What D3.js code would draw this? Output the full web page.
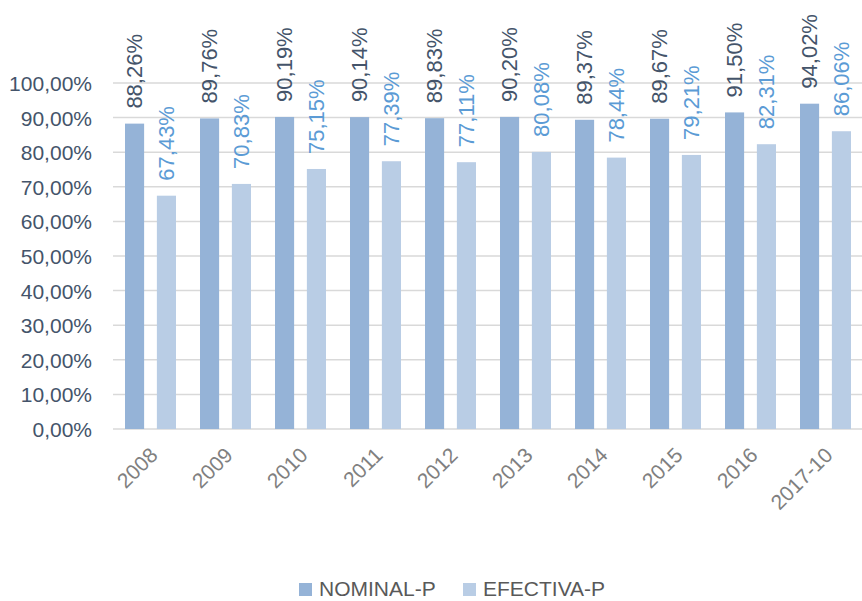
<!DOCTYPE html>
<html>
<head>
<meta charset="utf-8">
<script src="https://cdn.jsdelivr.net/npm/d3@7"></script>
<style>
  body { margin: 0; background: #fff; }
  text { font-family: "Liberation Sans", Arial, sans-serif; }
</style>
</head>
<body>
<script>
var years = ["2008","2009","2010","2011","2012","2013","2014","2015","2016","2017-10"]
var nominal = [88.26, 89.76, 90.19, 90.14, 89.83, 90.20, 89.37, 89.67, 91.50, 94.02]
var efectiva = [67.43, 70.83, 75.15, 77.39, 77.11, 80.08, 78.44, 79.21, 82.31, 86.06]
var seriesNames = ["NOMINAL-P", "EFECTIVA-P"]
var yTicks = [0,10,20,30,40,50,60,70,80,90,100]

var width = 862
var height = 601
var colors = ["#95b3d7", "#b9cde5"]
var labelColors = ["#44546a", "#5b9bd5"]

var fmt = function(v){ return v.toFixed(2).replace(".", ",") + "%" }

var svg = d3.select("body")
            .append("svg")
            .attr("width", width)
            .attr("height", height)

var xScale = d3.scaleBand()
               .domain(years)
               .range([113, 863])

var xInner = d3.scaleBand()
               .domain([0,1])
               .range([12, 63])
               .paddingInner(0.4)

var yScale = d3.scaleLinear()
               .domain([0,100])
               .range([429, 83])

// gridlines
svg.append("g")
   .selectAll("line")
   .data(yTicks)
   .enter()
   .append("line")
   .attr("x1", 113)
   .attr("x2", 862)
   .attr("y1", function(d){ return yScale(d) })
   .attr("y2", function(d){ return yScale(d) })
   .attr("stroke", "#d9d9d9")
   .attr("stroke-width", 1.5)

// y axis labels
var yAxis = d3.axisLeft(yScale)
              .tickValues(yTicks)
              .tickSize(0)
              .tickPadding(0)
              .tickFormat(function(d){ return d.toFixed(2).replace(".", ",") + "%" })

svg.append("g")
   .attr("transform", "translate(92,0)")
   .call(yAxis)
   .call(function(g){ g.select(".domain").remove() })
   .selectAll("text")
   .attr("font-size", 21)
   .attr("fill", "#44546a")
   .attr("dy", "0.36em")

var series = [nominal, efectiva]

series.forEach(function(vals, s){
  svg.append("g")
     .selectAll("rect")
     .data(vals)
     .enter()
     .append("rect")
     .attr("x", function(d,i){ return xScale(years[i]) + xInner(s) })
     .attr("width", xInner.bandwidth())
     .attr("y", function(d){ return yScale(d) })
     .attr("height", function(d){ return yScale(0) - yScale(d) })
     .attr("fill", colors[s])

  svg.append("g")
     .selectAll("text")
     .data(vals)
     .enter()
     .append("text")
     .attr("transform", function(d,i){
       var cx = xScale(years[i]) + xInner(s) + xInner.bandwidth()/2
       return "translate(" + cx + "," + (yScale(d) - 15) + ") rotate(-90)"
     })
     .attr("dy", "0.36em")
     .attr("font-size", 22)
     .attr("fill", labelColors[s])
     .text(function(d){ return fmt(d) })
})

// x axis labels
var xAxis = d3.axisBottom(xScale).tickSize(0).tickPadding(0)

svg.append("g")
   .attr("transform", "translate(0,446)")
   .call(xAxis)
   .call(function(g){ g.select(".domain").remove() })
   .selectAll("text")
   .attr("font-size", 21)
   .attr("fill", "#808080")
   .attr("text-anchor", "end")
   .attr("dy", "0.7em")
   .attr("transform", "translate(-2,0) rotate(-45)")

// legend
var legend = svg.append("g")
var legendX = [299, 463]
seriesNames.forEach(function(name, s){
  legend.append("rect")
        .attr("x", legendX[s])
        .attr("y", 583)
        .attr("width", 13)
        .attr("height", 13)
        .attr("fill", colors[s])
  legend.append("text")
        .attr("x", legendX[s] + 20)
        .attr("y", 588)
        .attr("dy", "0.36em")
        .attr("font-size", 21)
        .attr("fill", "#595959")
        .text(name)
})
</script>
</body>
</html>
